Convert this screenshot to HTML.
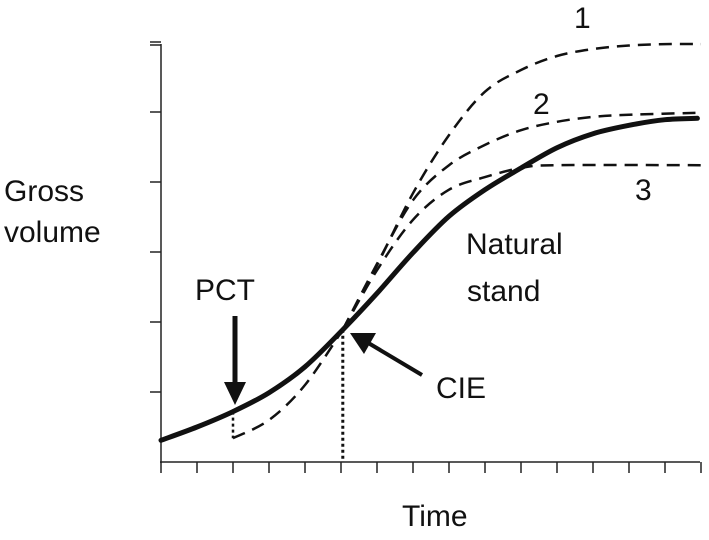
<!DOCTYPE html>
<html><head><meta charset="utf-8"><style>
body{margin:0;background:#fff}
svg text{font-family:"Liberation Sans",sans-serif;fill:#111}
</style></head><body>
<svg width="709" height="535" viewBox="0 0 709 535">
<g id="axes"></g><g id="marks"></g>
<text x="4" y="201" font-size="30">Gross</text>
<text x="4" y="242" font-size="30">volume</text>
<text x="402" y="526" font-size="30">Time</text>
<text x="195" y="300" font-size="30">PCT</text>
<text x="436" y="398" font-size="30">CIE</text>
<text x="466" y="254" font-size="30">Natural</text>
<text x="467" y="301" font-size="30">stand</text>
<text x="574" y="28" font-size="30">1</text>
<text x="533" y="114" font-size="30">2</text>
<text x="635" y="200" font-size="30">3</text>
</svg>
<script>
const xTicks=[0,1,2,3,4,5,6,7,8,9,10,11,12,13,14,15];
const yTicks=[1,2,3,4,5,6];
const naturalX=[0,1,2,3,4,5.05,6,7,8,9,10,11,12,13,14,14.9];
const naturalY=[0.31,0.5,0.72,0.99,1.36,1.89,2.41,2.99,3.51,3.89,4.2,4.49,4.69,4.81,4.89,4.91];
const thinX=[2,3,4,5.05];
const thinY=[0.34,0.6,1.1,1.89];
const c1X=[5.05,6,7,8,9,10,11,12,13,14,15];
const c1Y=[1.89,2.81,3.84,4.67,5.29,5.6,5.8,5.9,5.95,5.97,5.97];
const c2X=[5.05,6,7,8,9,10,11,12,13,15];
const c2Y=[1.89,2.83,3.74,4.24,4.53,4.74,4.86,4.93,4.96,4.99];
const c3X=[5.05,6,7,8,9,10,11,15];
const c3Y=[1.89,2.74,3.46,3.89,4.07,4.2,4.24,4.24];
const sx=v=>161+36*v, sy=v=>462-70*v;
const NS='http://www.w3.org/2000/svg';
function mk(p,t,a){const e=document.createElementNS(NS,t);for(const k in a)e.setAttribute(k,a[k]);p.appendChild(e);return e;}
const ax=document.getElementById('axes'),mg=document.getElementById('marks');
let e=mk(ax,'line',{x1:161,y1:44,x2:161,y2:463,stroke:'#222','stroke-width':1.5});


e=mk(ax,'line',{x1:160,y1:462,x2:700,y2:462,stroke:'#222','stroke-width':1.5});


mk(ax,'line',{x1:150,y1:45,x2:161,y2:45,stroke:'#222','stroke-width':1.5});
yTicks.forEach(v=>{const t=mk(ax,'line',{x1:150,y1:sy(v),x2:161,y2:sy(v),stroke:'#222','stroke-width':1.5});

});
xTicks.forEach(v=>{const t=mk(ax,'line',{x1:sx(v),y1:462,x2:sx(v),y2:473,stroke:'#222','stroke-width':1.5});

});
function path(X,Y){let d='';for(let i=0;i<X.length;i++){const px=sx(X[i]),py=sy(Y[i]);
if(i==0)d='M'+px+','+py;else{const x0=sx(X[i-1]),y0=sy(Y[i-1]);const xp=i>1?sx(X[i-2]):x0,yp=i>1?sy(Y[i-2]):y0;const xn=i<X.length-1?sx(X[i+1]):px,yn=i<X.length-1?sy(Y[i+1]):py;
d+=' C'+(x0+(px-xp)/6)+','+(y0+(py-yp)/6)+' '+(px-(xn-x0)/6)+','+(py-(yn-y0)/6)+' '+px+','+py;}}return d;}
[[c1X,c1Y,'curve-1'],[c2X,c2Y,'curve-2'],[c3X,c3Y,'curve-3'],[thinX,thinY,'thinned-start']].forEach(([X,Y,n])=>{
const p=mk(mg,'path',{d:path(X,Y),fill:'none',stroke:'#111','stroke-width':2.5,'stroke-dasharray':'13,8'});

});
e=mk(mg,'path',{d:path(naturalX,naturalY),fill:'none',stroke:'#111','stroke-width':5,'stroke-linecap':'round'});


e=mk(mg,'line',{x1:sx(2),y1:sy(naturalY[2]),x2:sx(2),y2:sy(thinY[0]),stroke:'#111','stroke-width':2.5,'stroke-dasharray':'3,3'});


e=mk(mg,'line',{x1:sx(5.05),y1:sy(1.89),x2:sx(5.05),y2:462,stroke:'#111','stroke-width':3,'stroke-dasharray':'3,3'});


e=mk(mg,'line',{x1:235,y1:316,x2:235,y2:385,stroke:'#111','stroke-width':5});


mk(mg,'polygon',{points:'224,382 246,382 235,405',fill:'#111'});
e=mk(mg,'line',{x1:422,y1:375,x2:365,y2:341,stroke:'#111','stroke-width':4});


mk(mg,'polygon',{points:'350,333 376,333 364,354',fill:'#111'});
</script>
</body></html>
